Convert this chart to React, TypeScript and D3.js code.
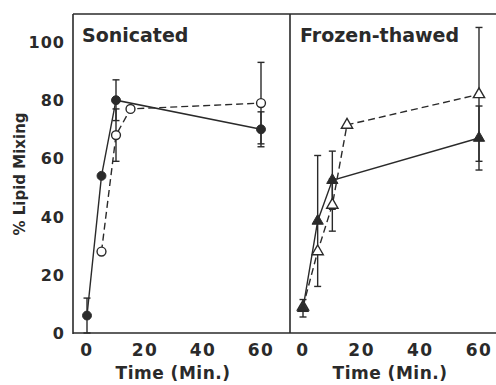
import React, { useEffect, useRef } from "react";
import * as d3 from "d3";

// Sonicated panel
const sonFilledT = [0, 5, 10, 60];
const sonFilledY = [6, 54, 80, 70];
const sonFilledErr = [6, 0, 7, 6];
const sonOpenT = [5, 10, 15, 60];
const sonOpenY = [28, 68, 77, 79];
const sonOpenErr = [0, 9, 0, 14];

// Frozen-thawed panel
const ftFilledT = [0, 5, 10, 60];
const ftFilledY = [8.5, 38.5, 52.5, 67];
const ftFilledErr = [3, 22.5, 10, 11];
const ftOpenT = [0, 5, 10, 15, 60];
const ftOpenY = [9, 28, 44, 71.5, 82];
const ftOpenErr = [0, 0, 9, 0, 23];

const yTicks = [0, 20, 40, 60, 80, 100];
const xTicks = [0, 20, 40, 60];

const INK = "#2a2a2a";
const FONT = "'DejaVu Sans', sans-serif";

const zip = (t: number[], y: number[], e: number[]) =>
  t.map((tt, i) => ({ t: tt, y: y[i], e: e[i] }));

const App = () => {
  const ref = useRef<SVGSVGElement>(null);

  useEffect(() => {
    const svg = d3.select(ref.current);
    svg.selectAll("*").remove();

    const top = 14;
    const bottom = 333;
    const left = 73;
    const divider = 290;

    const y = d3.scaleLinear().domain([0, 100]).range([bottom, 42]);

    // frame
    const frame = svg.append("g").attr("stroke", INK).attr("stroke-width", 1.6);
    frame.append("line").attr("x1", left).attr("x2", left).attr("y1", top).attr("y2", bottom + 1);
    frame.append("line").attr("x1", divider).attr("x2", divider).attr("y1", top).attr("y2", bottom);
    frame.append("line").attr("x1", left).attr("x2", 496).attr("y1", top).attr("y2", top);
    frame.append("line").attr("x1", left).attr("x2", 496).attr("y1", bottom).attr("y2", bottom);

    // y tick labels
    svg
      .append("g")
      .selectAll("text")
      .data(yTicks)
      .join("text")
      .attr("x", 65)
      .attr("y", (d) => y(d) + 6)
      .attr("text-anchor", "end")
      .attr("font-family", FONT)
      .attr("font-weight", "bold")
      .attr("font-size", 16)
      .attr("letter-spacing", 1)
      .attr("fill", INK)
      .text((d) => d);

    svg
      .append("text")
      .attr("transform", "translate(25,174) rotate(-90)")
      .attr("text-anchor", "middle")
      .attr("font-family", FONT)
      .attr("font-weight", "bold")
      .attr("font-size", 15)
      .attr("fill", INK)
      .text("% Lipid Mixing");

    const panels = [
      {
        title: "Sonicated",
        titleX: 82,
        range: [87, 261],
        filled: zip(sonFilledT, sonFilledY, sonFilledErr),
        open: zip(sonOpenT, sonOpenY, sonOpenErr),
        shape: d3.symbolCircle,
        size: 62,
      },
      {
        title: "Frozen-thawed",
        titleX: 300,
        range: [303, 479],
        filled: zip(ftFilledT, ftFilledY, ftFilledErr),
        open: zip(ftOpenT, ftOpenY, ftOpenErr),
        shape: d3.symbolTriangle,
        size: 55,
      },
    ];

    panels.forEach((p) => {
      const x = d3.scaleLinear().domain([0, 60]).range(p.range);
      const g = svg.append("g");

      g.append("text")
        .attr("x", p.titleX)
        .attr("y", 42)
        .attr("font-family", FONT)
        .attr("font-weight", "bold")
        .attr("font-size", 19)
        .attr("fill", INK)
        .text(p.title);

      g.append("g")
        .selectAll("text")
        .data(xTicks)
        .join("text")
        .attr("x", (d) => x(d))
        .attr("y", 356)
        .attr("text-anchor", "middle")
        .attr("font-family", FONT)
        .attr("font-weight", "bold")
        .attr("font-size", 17)
        .attr("letter-spacing", 1.5)
        .attr("fill", INK)
        .text((d) => d);

      g.append("text")
        .attr("x", (p.range[0] + p.range[1]) / 2 - 1)
        .attr("y", 379)
        .attr("text-anchor", "middle")
        .attr("font-family", FONT)
        .attr("font-weight", "bold")
        .attr("font-size", 17)
        .attr("letter-spacing", 0.5)
        .attr("fill", INK)
        .text("Time (Min.)");

      const line = d3
        .line<{ t: number; y: number; e: number }>()
        .x((d) => x(d.t))
        .y((d) => y(d.y));

      // error bars
      const bars = [...p.filled, ...p.open].filter((d) => d.e > 0);
      const eb = g.append("g").attr("stroke", INK).attr("stroke-width", 1.4);
      bars.forEach((d) => {
        const cx = x(d.t);
        eb.append("line").attr("x1", cx).attr("x2", cx).attr("y1", y(d.y - d.e)).attr("y2", y(d.y + d.e));
        [d.y - d.e, d.y + d.e].forEach((v) => {
          eb.append("line").attr("x1", cx - 3.5).attr("x2", cx + 3.5).attr("y1", y(v)).attr("y2", y(v));
        });
      });

      g.append("path")
        .datum(p.open)
        .attr("d", line)
        .attr("fill", "none")
        .attr("stroke", INK)
        .attr("stroke-width", 1.4)
        .attr("stroke-dasharray", "7,4");

      g.append("path")
        .datum(p.filled)
        .attr("d", line)
        .attr("fill", "none")
        .attr("stroke", INK)
        .attr("stroke-width", 1.4);

      const sym = d3.symbol().type(p.shape).size(p.size);

      g.append("g")
        .selectAll("path")
        .data(p.open)
        .join("path")
        .attr("transform", (d) => `translate(${x(d.t)},${y(d.y)})`)
        .attr("d", sym)
        .attr("fill", "white")
        .attr("stroke", INK)
        .attr("stroke-width", 1.4);

      g.append("g")
        .selectAll("path")
        .data(p.filled)
        .join("path")
        .attr("transform", (d) => `translate(${x(d.t)},${y(d.y)})`)
        .attr("d", sym)
        .attr("fill", INK)
        .attr("stroke", INK)
        .attr("stroke-width", 1);
    });
  }, []);

  return (
    <svg
      ref={ref}
      width={496}
      height={385}
      style={{ position: "absolute", left: 0, top: 0, background: "white" }}
    />
  );
};

export default App;
